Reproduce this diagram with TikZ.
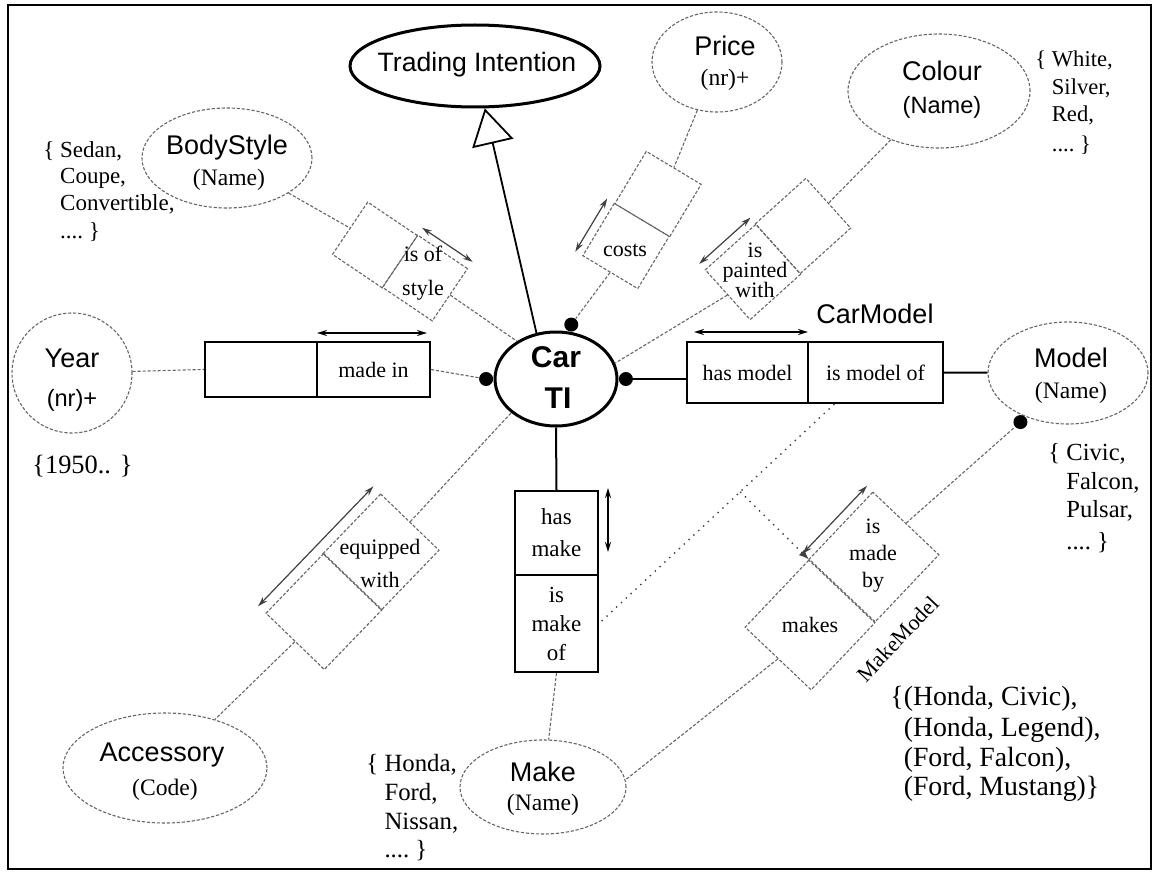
\documentclass[tikz,border=0pt]{standalone}
\usepackage{fontspec}
\setmainfont{Liberation Serif}
\newfontfamily\sansf{Liberation Sans}
\usetikzlibrary{shapes.geometric,arrows.meta,calc}
\newcommand{\fdots}{....}
\newcommand{\ind}{\phantom{\{ }}
\begin{document}
\begin{tikzpicture}[x=0.5pt,y=-0.5pt,
 every node/.style={inner sep=0pt},
 gline/.style={draw=black!60, line width=0.55pt, dash pattern=on 1.6pt off 0.9pt},
 sub/.style={draw=black!75, line width=0.7pt, dash pattern=on 0.7pt off 2.6pt},
 vt/.style={ellipse, draw=black!60, line width=0.55pt, dash pattern=on 1.6pt off 0.9pt},
 bigell/.style={ellipse, draw=black, line width=1.5pt},
 cellg/.style={rectangle, draw=black!60, line width=0.55pt, dash pattern=on 1.6pt off 0.9pt},
 cellb/.style={rectangle, draw=black, line width=1pt, align=center, font=\fontsize{11}{13}\selectfont},
 dot/.style={circle, fill=black, minimum size=7pt},
 nm/.style={font=\sansf\fontsize{13.5}{16}\selectfont},
 nms/.style={font=\sansf\fontsize{11.8}{14}\selectfont},
 nmr/.style={font=\fontsize{11.8}{14}\selectfont},
 lab/.style={align=center, font=\fontsize{11}{13}\selectfont},
 ucb/.style={{Stealth[length=5pt,width=3pt]}-{Stealth[length=5pt,width=3pt]}, line width=0.9pt, black},
 ucg/.style={{Stealth[length=5pt,width=3pt]}-{Stealth[length=5pt,width=3pt]}, line width=0.6pt, black!75},
 vals/.style={anchor=base west},
 vbs/.style={vals, font=\fontsize{11.5}{13}\selectfont},
 vco/.style={vals, font=\fontsize{11.3}{13}\selectfont},
 vmo/.style={vals, font=\fontsize{12.3}{14}\selectfont},
 vmk/.style={vals, font=\fontsize{12.4}{15}\selectfont},
 vmm/.style={vals, font=\fontsize{13.9}{15}\selectfont}
]
\useasboundingbox (0,0) rectangle (1157,872);
\draw[line width=1pt] (8,5) rectangle (1151,869);

% object types
\node[bigell, minimum width=125pt, minimum height=41pt] (ti) at (475,66) {};
\node[font=\sansf\fontsize{13.3}{16}\selectfont] (tit) at (477,65) {Trading Intention};

\node[bigell, minimum width=61pt, minimum height=47pt] (car) at (556,379) {};
\node[font=\sansf\bfseries\fontsize{15}{18}\selectfont] (carl1) at (556,357) {Car};
\node[font=\sansf\bfseries\fontsize{15}{18}\selectfont] (carl2) at (558,398) {TI};
\node[dot, anchor=south] (dt) at (car.72) {};
\node[dot, anchor=east] (dl) at (car.180) {};
\node[dot, anchor=west] (dr) at (car.0) {};

\node[vt, minimum width=65pt, minimum height=50pt] (price) at (717,62) {};
\node[nm] (pricet) at (725,46) {Price};
\node[nmr] (prices) at (725,80) {(nr)+};

\node[vt, minimum width=91pt, minimum height=57pt] (colour) at (939,91) {};
\node[nm] (colourt) at (942,71) {Colour};
\node[nms] (colours) at (942,107) {(Name)};

\node[vt, minimum width=85pt, minimum height=50pt] (bodystyle) at (227,158) {};
\node[nm] (bodystylet) at (227,148) {BodyStyle};
\node[nmr] (bodystyles) at (229,180) {(Name)};

\node[vt, minimum width=60pt, minimum height=60pt] (year) at (72,373) {};
\node[nm] (yeart) at (72,358) {Year};
\node[nms] (years) at (72,400) {(nr)+};

\node[vt, minimum width=80pt, minimum height=51pt] (model) at (1068,373) {};
\node[nm] (modelt) at (1071,358) {Model};
\node[nmr] (models) at (1071,393) {(Name)};
\node[dot, anchor=north east] (mdot) at (model.226) {};

\node[vt, minimum width=102pt, minimum height=55pt] (accessory) at (165,768) {};
\node[nm] (accessoryt) at (162,755) {Accessory};
\node[nmr] (accessorys) at (165,790) {(Code)};

\node[vt, minimum width=83pt, minimum height=47pt] (make) at (543,787) {};
\node[nm] (maket) at (543,772) {Make};
\node[nmr] (makes) at (543,805) {(Name)};

% subtype arrow
\draw[line width=0.9pt, -{Triangle[open, length=18pt, width=21pt]}] (car.113) -- (ti);

% made in
\node[cellb, minimum width=56pt, minimum height=27.5pt] (mi1) at (261,369.5) {};
\node[cellb, minimum width=56.5pt, minimum height=27.5pt] (mi2) at (373.5,369.5) {made in};
\draw[gline] (year) -- (mi1.west);
\draw[gline] (mi2.east) -- (dl);
\draw[ucb] ($(mi2.north west)+(1,-8)$) -- ($(mi2.north east)+(-4,-8)$);

% CarModel
\node[cellb, minimum width=60.5pt, minimum height=30.5pt] (cm1) at (747.5,372.5) {has model};
\node[cellb, minimum width=67.5pt, minimum height=30.5pt] (cm2) at (875.5,372.5) {is model of};
\draw[line width=1pt] (dr) -- (dr -| cm1.west);
\draw[line width=1pt] (cm2.east) -- (model);
\draw[ucb] ($(cm1.north west)+(8,-9)$) -- ($(cm1.north east)+(-1,-9)$);
\node[nm] (cml) at (875,314) {CarModel};

% has make
\node[cellb, minimum width=41.5pt, minimum height=42pt, font=\fontsize{11.5}{16}\selectfont] (hm1) at (556.5,533) {has\\make};
\node[cellb, minimum width=41.5pt, minimum height=48.5pt, font=\fontsize{11.5}{14.5}\selectfont] (hm2) at (556.5,623.5) {is\\make\\of};
\draw[line width=1pt] (car.south) -- (hm1.north);
\draw[gline] (hm2.south) -- (make);
\draw[ucb] ($(hm1.north east)+(9,-2)$) -- ($(hm1.north east)+(9,62)$);

% is of style
\node[cellg, rotate=-34, minimum width=30pt, minimum height=31.5pt] (bs1) at (375,245) {};
\node[cellg, rotate=-34, minimum width=30pt, minimum height=31.5pt] (bs2) at (425,278) {};
\node[lab, font=\fontsize{11}{17}\selectfont] (bst) at (423,273) {is of\\style};
\draw[gline] (bodystyle) -- (bs1.west);
\draw[gline] (bs2.east) -- (car.136);
\draw[ucg] ($(bs2.north west)!-4pt!(bs2.south west)$) -- ($(bs2.north east)!-4pt!(bs2.south east)$);

% costs
\node[cellg, rotate=-121, minimum width=30.5pt, minimum height=32pt] (pc1) at (658,194) {};
\node[cellg, rotate=-121, minimum width=30.5pt, minimum height=32pt] (pc2) at (626,246) {};
\node[lab] (pct) at (625,250) {costs};
\draw[gline] (price) -- (pc1.west);
\draw[gline] (pc2.east) -- (dt);
\draw[ucg] ($(pc2.south west)!-4pt!(pc2.north west)$) -- ($(pc2.south east)!-4pt!(pc2.north east)$);

% is painted with
\node[cellg, rotate=-138, minimum width=34pt, minimum height=33.5pt] (pp1) at (803,226) {};
\node[cellg, rotate=-138, minimum width=34pt, minimum height=33.5pt] (pp2) at (753,272) {};
\node[lab, font=\fontsize{11}{10}\selectfont] (ppt) at (755,270) {is\\painted\\with};
\draw[gline] (colour) -- (pp1.west);
\draw[gline] (pp2.east) -- (car.15);
\draw[ucg] ($(pp2.south west)!-4pt!(pp2.north west)$) -- ($(pp2.south east)!-4pt!(pp2.north east)$);

% equipped with
\node[cellg, rotate=46, minimum width=41.5pt, minimum height=40.5pt] (eq1) at (381,552) {};
\node[cellg, rotate=46, minimum width=41.5pt, minimum height=40.5pt] (eq2) at (324,611.5) {};
\node[lab, font=\fontsize{11}{16.5}\selectfont] (eqt) at (380,563) {equipped\\with};
\draw[gline] (eq1.east) -- (car.217);
\draw[gline] (eq2.west) -- (accessory);
\draw[ucg] ($(eq2.north west)!-5pt!(eq2.south west)$) -- ($(eq1.north east)!-5pt!(eq1.south east)$);

% MakeModel
\node[cellg, rotate=46.5, minimum width=46.25pt, minimum height=45.5pt] (mm1) at (810,625) {};
\node[cellg, rotate=46.5, minimum width=46.25pt, minimum height=45.5pt] (mm2) at (874,557) {};
\node[lab] (mmt1) at (810,625) {makes};
\node[lab, font=\fontsize{11}{13.5}\selectfont] (mmt2) at (873,556) {is\\made\\by};
\draw[gline] (mm2.east) -- (mdot);
\draw[gline] (mm1.west) -- (make.5);
\draw[ucg] ($(mm2.north west)!-4pt!(mm2.south west)$) -- ($(mm2.north east)!-4pt!(mm2.south east)$);
\node[lab, rotate=46.5] (mml) at (898,639) {MakeModel};

% join path / subset
\coordinate (sa) at ($(cm2.south west)!0.2!(cm2.south east)$);
\draw[sub] (sa) -- (hm2.east);
\coordinate (sb) at ($(sa)!0.4!(hm2.east)$);
\draw[sub, -{Latex[length=5pt,width=4pt]}] (sb) -- (mm1.north east);

% value lists
\node[vbs] (bsv1) at (43,157) {\{ Sedan,};
\node[vbs] (bsv2) at (43,184) {\ind Coupe,};
\node[vbs] (bsv3) at (43,211) {\ind Convertible,};
\node[vbs] (bsv4) at (43,238) {\ind\fdots\ \}};

\node[vco] (cov1) at (1035,67) {\{ White,};
\node[vco] (cov2) at (1035,95) {\ind Silver,};
\node[vco] (cov3) at (1035,122) {\ind Red,};
\node[vco] (cov4) at (1035,152) {\ind\fdots\ \}};

\node[vmo] (mov1) at (1048,460) {\{ Civic,};
\node[vmo] (mov2) at (1048,489) {\ind Falcon,};
\node[vmo] (mov3) at (1048,517) {\ind Pulsar,};
\node[vmo] (mov4) at (1048,549) {\ind\fdots\ \}};

\node[vmk] (mkv1) at (366,771) {\{ Honda,};
\node[vmk] (mkv2) at (366,800) {\ind Ford,};
\node[vmk] (mkv3) at (366,829) {\ind Nissan,};
\node[vmk] (mkv4) at (366,857) {\ind\fdots\ \}};

\node[vmm] (mmv1) at (890,705) {\{(Honda, Civic),};
\node[vmm] (mmv2) at (890,736) {\phantom{\{}(Honda, Legend),};
\node[vmm] (mmv3) at (890,766) {\phantom{\{}(Ford, Falcon),};
\node[vmm] (mmv4) at (890,795) {\phantom{\{}(Ford, Mustang)\}};

\node[vals, font=\fontsize{13.2}{15}\selectfont] (yv) at (32,473) {\{1950.. \}};
\end{tikzpicture}
\end{document}
